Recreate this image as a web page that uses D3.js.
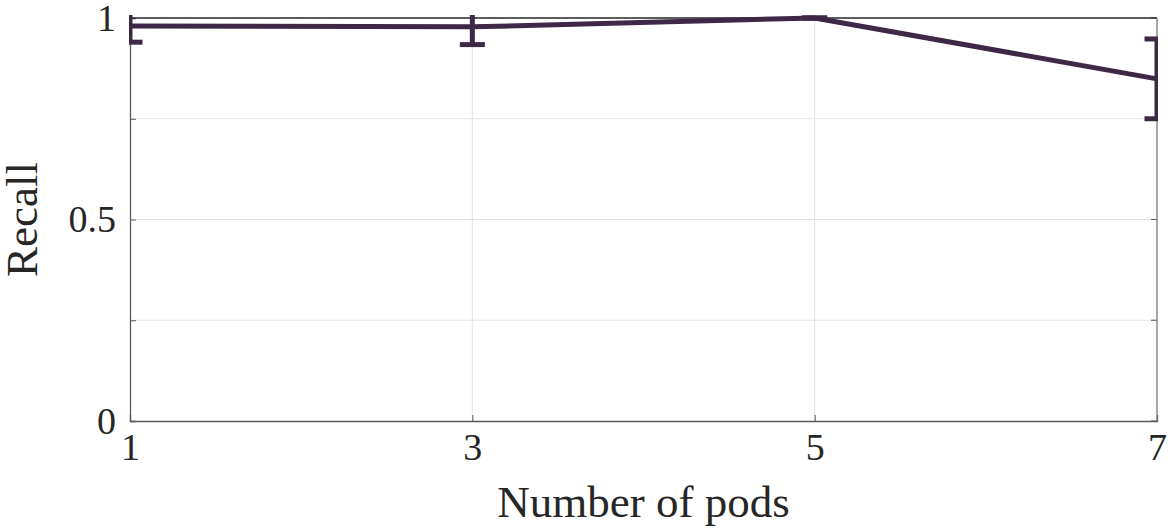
<!DOCTYPE html>
<meta charset="utf-8">
<script src="https://d3js.org/d3.v7.min.js"></script>
<style>
  body { margin: 0; background: #fff; }
  text { font-family: "Liberation Serif", "DejaVu Serif", serif; fill: #262626; }
</style>
<div id="my_dataviz"></div>
<script>
// data
var pods = [1, 3, 5, 7];
var recall = [0.980, 0.978, 1.000, 0.849];
var recallErr = [0.040, 0.044, 0.000, 0.099];
var xTicks = [1, 3, 5, 7];
var yTicks = [0, 0.25, 0.5, 0.75, 1];
var yTickLabels = {0: "0", 0.5: "0.5", 1: "1"};

var margin = { top: 18, right: 16, bottom: 108, left: 130 },
    width = 1173 - margin.left - margin.right,
    height = 529 - margin.top - margin.bottom;

var svg = d3.select("#my_dataviz")
  .append("svg")
  .attr("width", 1173)
  .attr("height", 529)
  .append("g")
  .attr("transform", "translate(" + margin.left + "," + margin.top + ")");

var x = d3.scaleLinear().domain([1, 7]).range([0, width]);
var y = d3.scaleLinear().domain([0, 1]).range([height, 0]);

// grid
svg.append("g").selectAll("line").data(xTicks.slice(1, -1)).enter().append("line")
  .attr("x1", d => x(d)).attr("x2", d => x(d))
  .attr("y1", 0).attr("y2", height)
  .attr("stroke", "#e3e3e3").attr("stroke-width", 1);
svg.append("g").selectAll("line").data(yTicks.slice(1, -1)).enter().append("line")
  .attr("x1", 0).attr("x2", width)
  .attr("y1", d => y(d)).attr("y2", d => y(d))
  .attr("stroke", "#e3e3e3").attr("stroke-width", 1);

// axes (MATLAB-style inward ticks)
var xAxis = svg.append("g")
  .attr("transform", "translate(0," + height + ")")
  .call(d3.axisBottom(x).tickValues(xTicks).tickSize(-6).tickPadding(12).tickFormat(d3.format("d")));
var yAxis = svg.append("g")
  .call(d3.axisLeft(y).tickValues(yTicks).tickSize(-6).tickPadding(14)
    .tickFormat(d => yTickLabels[d] || ""));
[xAxis, yAxis].forEach(a => {
  a.select(".domain").attr("stroke", "#5a5a5a").attr("stroke-width", 1.3);
  a.selectAll(".tick line").attr("stroke", "#5a5a5a");
  a.selectAll("text").style("font-size", "38px").attr("fill", "#262626")
    .style("font-family", "'Liberation Serif', 'DejaVu Serif', serif");
});
xAxis.selectAll("text").attr("dy", "0.71em");

// right ticks
svg.append("g").selectAll("line").data(yTicks).enter().append("line")
  .attr("x1", width).attr("x2", width - 6)
  .attr("y1", d => y(d)).attr("y2", d => y(d))
  .attr("stroke", "#5a5a5a");

// box top/right
svg.append("line").attr("x1", 0).attr("x2", width).attr("y1", 0).attr("y2", 0)
  .attr("stroke", "#262626").attr("stroke-width", 1.3);
svg.append("line").attr("x1", width).attr("x2", width).attr("y1", 0).attr("y2", height)
  .attr("stroke", "#7a7a7a").attr("stroke-width", 1.3);

// clip
svg.append("clipPath").attr("id", "clip")
  .append("rect").attr("x", -1).attr("y", -3).attr("width", width + 2).attr("height", height + 3);

var col = "#3d2846";
var pts = pods.map((p, i) => ({ x: p, y: recall[i], e: recallErr[i] }));
var plot = svg.append("g").attr("clip-path", "url(#clip)");

plot.append("path")
  .datum(pts)
  .attr("fill", "none").attr("stroke", col).attr("stroke-width", 5)
  .attr("stroke-linejoin", "round")
  .attr("d", d3.line().x(d => x(d.x)).y(d => y(d.y)));

var capW = 12.5;
var eb = plot.append("g").selectAll("g").data(pts).enter().append("g")
  .attr("stroke", col).attr("stroke-width", 5).attr("fill", "none");
eb.append("line")
  .attr("x1", d => x(d.x)).attr("x2", d => x(d.x))
  .attr("y1", d => y(d.y + d.e)).attr("y2", d => y(d.y - d.e));
eb.append("line")
  .attr("x1", d => x(d.x) - capW).attr("x2", d => x(d.x) + capW)
  .attr("y1", d => y(d.y + d.e)).attr("y2", d => y(d.y + d.e));
eb.append("line")
  .attr("x1", d => x(d.x) - capW).attr("x2", d => x(d.x) + capW)
  .attr("y1", d => y(d.y - d.e)).attr("y2", d => y(d.y - d.e));

// axis titles
svg.append("text")
  .attr("x", width / 2).attr("y", height + 96)
  .attr("text-anchor", "middle")
  .style("font-size", "45px")
  .text("Number of pods");
svg.append("text")
  .attr("transform", "translate(" + (-93) + "," + (height / 2) + ")rotate(-90)")
  .attr("text-anchor", "middle")
  .style("font-size", "45px")
  .text("Recall");
</script>
